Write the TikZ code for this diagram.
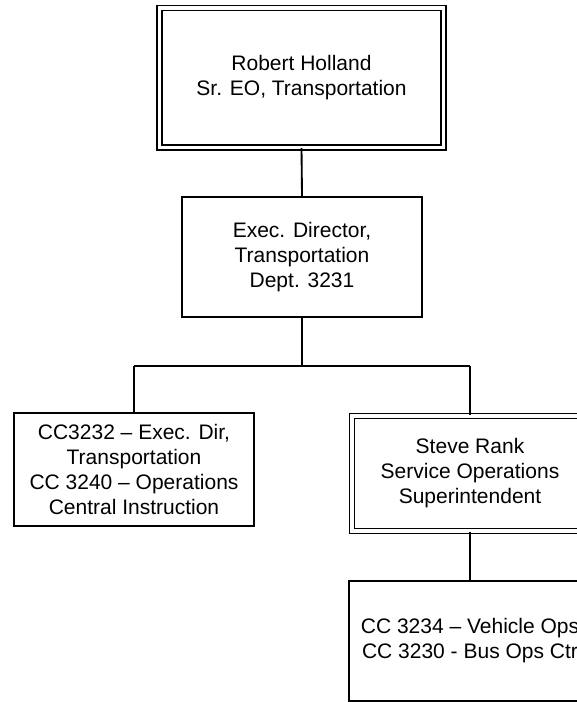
\documentclass[tikz,border=0pt]{standalone}
\usepackage{fontspec}
\setmainfont{Liberation Sans}
\begin{document}
\begin{tikzpicture}[x=0.75pt,y=-0.75pt,
  box/.style={draw=black,line width=1.4pt,fill=white,inner sep=0pt,align=center,
    font=\fontsize{15.75}{18.75}\selectfont},
  dbox/.style={box,double=white,double distance=2.4pt,line width=1.1pt},
  conn/.style={draw=black,line width=1.4pt}]
\useasboundingbox (0,0) rectangle (576,702);
\node[dbox,minimum width=213pt,minimum height=104.6pt] (top) at (301.5,77.75)
  {Robert Holland\\Sr. EO, Transportation};
\node[box,minimum width=180pt,minimum height=90pt] (exec) at (302,257)
  {Exec. Director,\\Transportation\\Dept. 3231};
\node[box,minimum width=180pt,minimum height=84.75pt] (left) at (134,469.5)
  {CC3232 -- Exec. Dir,\\Transportation\\CC 3240 -- Operations\\Central Instruction};
\node[dbox,minimum width=177pt,minimum height=86.25pt] (steve) at (470,473.5)
  {Steve Rank\\Service Operations\\Superintendent};
\node[box,minimum width=181.5pt,minimum height=90pt] (cc) at (470,641)
  {CC 3234 -- Vehicle Ops\\CC 3230 - Bus Ops Ctr};
\coordinate (j) at (302,366);
\coordinate (jl) at (134,366);
\coordinate (jr) at (470,366);
\draw[conn] (top.south) -- (exec.north);
\draw[conn] (exec.south) -- (j);
\draw[conn] (jl) -- (jr);
\draw[conn] (jl) -- (left.north);
\draw[conn] (jr) -- (steve.north);
\draw[conn] (steve.south) -- (cc.north);
\end{tikzpicture}
\end{document}
